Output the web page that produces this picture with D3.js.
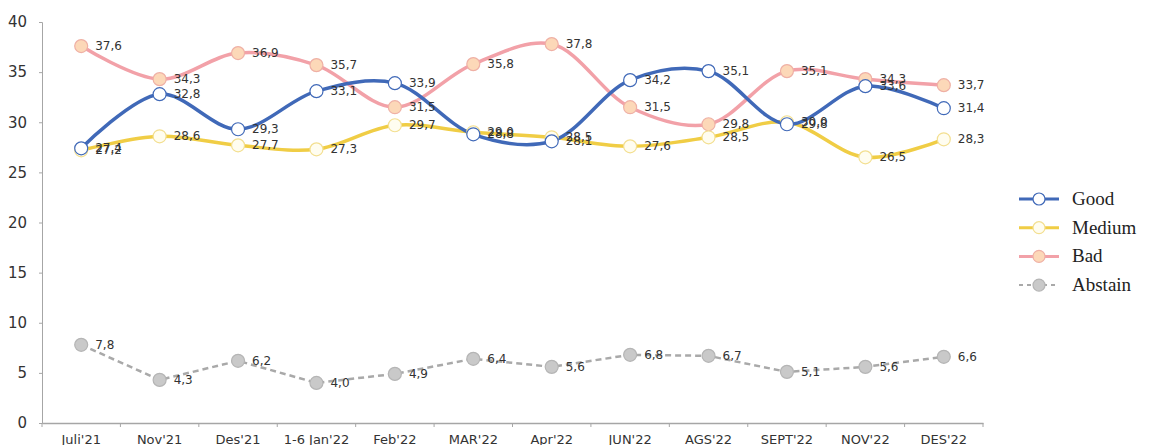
<!DOCTYPE html>
<html>
<head>
<meta charset="utf-8">
<script src="https://cdn.jsdelivr.net/npm/d3@7"></script>
<style>
  body { margin: 0; background: #fff; }
  svg { display: block; }
</style>
</head>
<body>
<svg id="chart" width="1149" height="445"></svg>
<script>
var categories = ["Juli'21", "Nov'21", "Des'21", "1-6 Jan'22", "Feb'22", "MAR'22", "Apr'22", "JUN'22", "AGS'22", "SEPT'22", "NOV'22", "DES'22"];
var good = [27.4, 32.8, 29.3, 33.1, 33.9, 28.8, 28.1, 34.2, 35.1, 29.8, 33.6, 31.4];
var medium = [27.2, 28.6, 27.7, 27.3, 29.7, 29.0, 28.5, 27.6, 28.5, 30.0, 26.5, 28.3];
var bad = [37.6, 34.3, 36.9, 35.7, 31.5, 35.8, 37.8, 31.5, 29.8, 35.1, 34.3, 33.7];
var abstain = [7.8, 4.3, 6.2, 4.0, 4.9, 6.4, 5.6, 6.8, 6.7, 5.1, 5.6, 6.6];
var yTicks = [0, 5, 10, 15, 20, 25, 30, 35, 40];

var series = [
  { name: 'Good', values: good, stroke: '#4069b8', fill: '#ffffff', mstroke: '#4069b8', dash: null, smooth: true },
  { name: 'Medium', values: medium, stroke: '#f0cd45', fill: '#fffdf0', mstroke: '#f3df90', dash: null, smooth: true },
  { name: 'Bad', values: bad, stroke: '#f2a1a8', fill: '#fcd8b8', mstroke: '#efb0a5', dash: null, smooth: true },
  { name: 'Abstain', values: abstain, stroke: '#a9a9a9', fill: '#c9c9c9', mstroke: '#b5b5b5', dash: '6,4', smooth: false }
];

var svg = d3.select('#chart');
var x0 = 42, x1 = 983, yTop = 22, yBot = 423;

var x = d3.scaleBand().domain(categories).range([x0, x1]);
var y = d3.scaleLinear().domain([0, 40]).range([yBot, yTop]);

// y axis
var yAxis = svg.append('g').attr('transform', 'translate(' + x0 + ',0)')
  .call(d3.axisLeft(y).tickValues(yTicks).tickSize(3).tickPadding(12));
yAxis.select('.domain').attr('stroke', '#a6a6a6');
yAxis.selectAll('.tick line').attr('stroke', '#a6a6a6');
yAxis.selectAll('text').attr('font-family', 'DejaVu Sans, Verdana, sans-serif')
  .attr('font-size', 15).attr('fill', '#333');

// x axis
var xAxis = svg.append('g').attr('transform', 'translate(0,' + yBot + ')')
  .call(d3.axisBottom(x).tickSize(0).tickPadding(12));
xAxis.select('.domain').attr('stroke', '#a6a6a6').attr('stroke-width', 1.5);
xAxis.selectAll('text').attr('font-family', 'DejaVu Sans, Verdana, sans-serif')
  .attr('font-size', 13).attr('fill', '#333');
svg.append('g').selectAll('line')
  .data(d3.range(categories.length + 1))
  .enter().append('line')
  .attr('x1', function (i) { return x0 + i * x.step(); })
  .attr('x2', function (i) { return x0 + i * x.step(); })
  .attr('y1', yBot).attr('y2', yBot + 4)
  .attr('stroke', '#a6a6a6');

function cx(i) { return x(categories[i]) + x.bandwidth() / 2; }

// draw series in back-to-front order
var order = [series[3], series[2], series[1], series[0]];
order.forEach(function (s) {
  var line = d3.line()
    .x(function (d, i) { return cx(i); })
    .y(function (d) { return y(d); })
    .curve(s.smooth ? d3.curveCatmullRom.alpha(0.5) : d3.curveLinear);
  svg.append('path')
    .datum(s.values)
    .attr('d', line)
    .attr('fill', 'none')
    .attr('stroke', s.stroke)
    .attr('stroke-width', s.smooth ? 3.5 : 2.5)
    .attr('stroke-dasharray', s.dash);
});

order.forEach(function (s) {
  var g = svg.append('g');
  g.selectAll('circle').data(s.values).enter().append('circle')
    .attr('cx', function (d, i) { return cx(i); })
    .attr('cy', function (d) { return y(d); })
    .attr('r', 6.5)
    .attr('fill', s.fill)
    .attr('stroke', s.mstroke)
    .attr('stroke-width', 1.2);
});

order.forEach(function (s) {
  svg.append('g').selectAll('text').data(s.values).enter().append('text')
    .attr('x', function (d, i) { return cx(i) + 14; })
    .attr('y', function (d) { return y(d) + 4; })
    .attr('font-family', 'DejaVu Sans, Verdana, sans-serif')
    .attr('font-size', 12)
    .attr('fill', '#333')
    .text(function (d) { return d.toFixed(1).replace('.', ','); });
});

// legend
var legend = svg.append('g').attr('transform', 'translate(1019,199)');
series.forEach(function (s, i) {
  var row = legend.append('g').attr('transform', 'translate(0,' + (i * 28.7) + ')');
  row.append('line').attr('x1', 0).attr('x2', 40).attr('y1', 0).attr('y2', 0)
    .attr('stroke', s.stroke).attr('stroke-width', s.smooth ? 3 : 2)
    .attr('stroke-dasharray', s.dash ? '4,4' : null);
  row.append('circle').attr('cx', 20).attr('cy', 0).attr('r', 6)
    .attr('fill', s.fill).attr('stroke', s.mstroke).attr('stroke-width', 1.2);
  row.append('text').attr('x', 53).attr('y', 6)
    .attr('font-family', 'Liberation Serif, Times New Roman, serif')
    .attr('font-size', 19).attr('fill', '#222')
    .text(s.name);
});
</script>
</body>
</html>
